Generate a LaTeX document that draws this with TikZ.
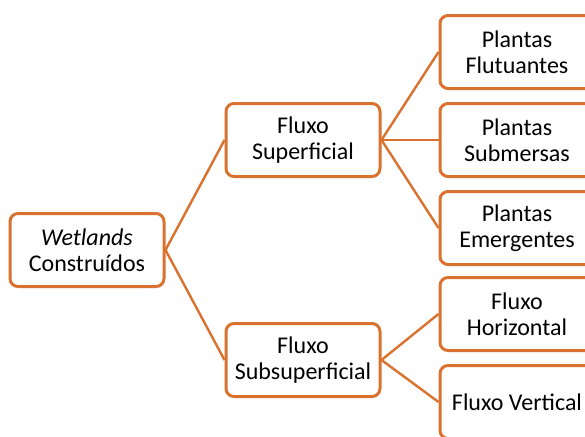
\documentclass[tikz,border=0pt]{standalone}
\usepackage{fontspec}
\setmainfont{Carlito}
\usepackage{xcolor}
\usepackage{tikz}
\usetikzlibrary{positioning}

\definecolor{wetorange}{RGB}{216,114,46}

\begin{document}
\begin{tikzpicture}[
    node distance=6pt and 29.5pt,
    box/.style={rectangle, draw=wetorange, line width=1.5pt, rounded corners=4pt, fill=white, minimum width=77pt, minimum height=36.5pt, align=center, font=\fontsize{12pt}{12.9pt}\selectfont},
    link/.style={draw=wetorange, line width=1.2pt},
]
    \useasboundingbox (0,0) rectangle (292.5pt,218pt);

    \node[box] (root) at (43.5pt,93pt) {\textit{Wetlands}\\Construídos};
    \node[box, right=of root, yshift=55pt] (sup) {Fluxo\\Superficial};
    \node[box, right=of root, yshift=-55pt] (sub) {Fluxo\\Subsuperficial};

    \node[box, right=28.5pt of sup] (subm) {Plantas\\Submersas};
    \node[box, above=of subm] (flut) {Plantas\\Flutuantes};
    \node[box, below=of subm] (emer) {Plantas\\Emergentes};

    \node[box, right=28.5pt of sub, yshift=23pt] (horiz) {Fluxo\\Horizontal};
    \node[box, below=of horiz] (vert) {Fluxo Vertical};

    \draw[link] (root.east) -- (sup.west);
    \draw[link] (root.east) -- (sub.west);
    \draw[link] (sup.east) -- (flut.west);
    \draw[link] (sup.east) -- (subm.west);
    \draw[link] (sup.east) -- (emer.west);
    \draw[link] (sub.east) -- (horiz.west);
    \draw[link] (sub.east) -- (vert.west);
\end{tikzpicture}
\end{document}
